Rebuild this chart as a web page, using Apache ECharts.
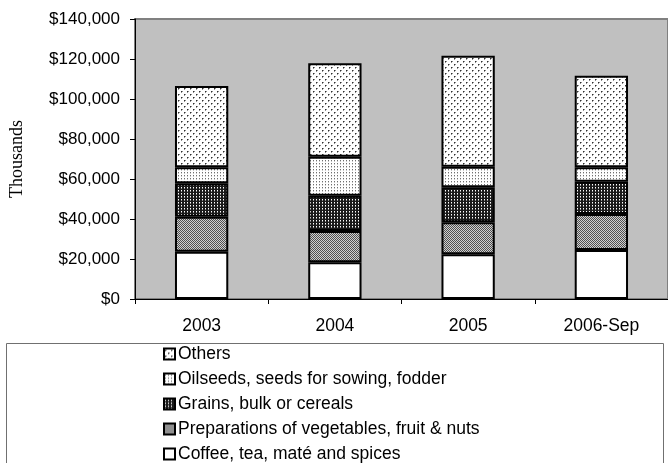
<!DOCTYPE html>
<html>
<head>
<meta charset="utf-8">
<script src="https://cdn.jsdelivr.net/npm/echarts@6/dist/echarts.min.js"></script>
<style>
html, body { margin: 0; padding: 0; background: #fff; }
#chart { width: 668px; height: 463px; }
</style>
</head>
<body>
<div id="chart"></div>
<script>
// data (thousands of $)
var years = ['2003', '2004', '2005', '2006-Sep'];
var coffee = [23650, 18330, 22330, 24500];
var preparations = [17500, 15670, 16000, 18000];
var grains = [16700, 17670, 17500, 16170];
var oilseeds = [8000, 19500, 10340, 7160];
var others = [40650, 46680, 55500, 45840];
var seriesNames = [
	'Coffee, tea, maté and spices',
	'Preparations of vegetables, fruit & nuts',
	'Grains, bulk or cereals',
	'Oilseeds, seeds for sowing, fodder',
	'Others'
];

// 小图案（模拟 Excel 的填充）
var makePattern = function(size, bg, dots) {
	var c = document.createElement('canvas');
	c.width = size; c.height = size;
	var ctx = c.getContext('2d');
	ctx.fillStyle = bg;
	ctx.fillRect(0, 0, size, size);
	for (var i = 0; i < dots.length; i++) {
		ctx.fillStyle = dots[i][2];
		ctx.fillRect(dots[i][0], dots[i][1], 1, 1);
	}
	return { image: c, repeat: 'repeat' };
};

var fillCoffee = '#ffffff';
var fillPrep = makePattern(2, '#d0d0d0', [[0, 0, '#505050'], [1, 1, '#505050']]);
var fillGrains = makePattern(3, '#1a1a1a', [[1, 1, '#ffffff'], [1, 2, '#909090']]);
var fillOil = makePattern(3, '#ffffff', [[1, 1, '#707070'], [1, 2, '#c8c8c8']]);
var fillOthers = makePattern(6, '#ffffff', [
	[1, 1, '#303030'], [2, 1, '#909090'], [1, 2, '#909090'],
	[4, 4, '#303030'], [5, 4, '#909090'], [4, 5, '#909090']
]);

var fills = [fillCoffee, fillPrep, fillGrains, fillOil, fillOthers];
var values = [coffee, preparations, grains, oilseeds, others];

var chart = echarts.init(document.getElementById('chart'));
var series = [];
for (var i = 0; i < values.length; i++) {
	series.push({
		name: seriesNames[i],
		type: 'bar',
		stack: 'total',
		barWidth: '40%',
		data: values[i],
		itemStyle: {
			color: fills[i],
			borderColor: '#000',
			borderWidth: 2
		}
	});
}

var option = {
	animation: false,
	textStyle: { fontFamily: 'Liberation Sans, Arial, sans-serif' },
	grid: {
		left: 134,
		top: 19,
		right: 0,
		bottom: 164,
		show: true,
		backgroundColor: '#c0c0c0',
		borderColor: '#808080',
		borderWidth: 2
	},
	graphic: [{
		type: 'rect',
		shape: { x: 6.5, y: 343.5, width: 657, height: 140 },
		style: { fill: '#fff', stroke: '#707070', lineWidth: 1 },
		z: -1
	}],
	legend: {
		orient: 'vertical',
		left: 163,
		top: 345,
		padding: 0,
		icon: 'rect',
		itemWidth: 11,
		itemHeight: 11,
		itemGap: 7,
		data: seriesNames.slice().reverse(),
		textStyle: { fontSize: 17.5, lineHeight: 18, color: '#000', padding: [0, 0, 0, -2] }
	},
	xAxis: {
		type: 'category',
		data: years,
		axisLine: { lineStyle: { color: '#000', width: 1 } },
		axisTick: { show: true, length: 5, lineStyle: { color: '#000' } },
		axisLabel: { fontSize: 17.5, color: '#000', margin: 18 }
	},
	yAxis: {
		type: 'value',
		min: 0,
		max: 140000,
		interval: 20000,
		name: 'Thousands',
		nameLocation: 'middle',
		nameRotate: 90,
		nameGap: 109,
		nameTextStyle: { fontFamily: 'Liberation Serif, Times New Roman, serif', fontSize: 18, color: '#000' },
		axisLine: { show: true, lineStyle: { color: '#000', width: 1 } },
		axisTick: { show: true, length: 5, lineStyle: { color: '#000' } },
		splitLine: { show: false },
		axisLabel: {
			fontSize: 17,
			color: '#000',
			margin: 15,
			formatter: function(v) { return '$' + v.toLocaleString('en-US'); }
		}
	},
	series: series
};
chart.setOption(option);
</script>
</body>
</html>
